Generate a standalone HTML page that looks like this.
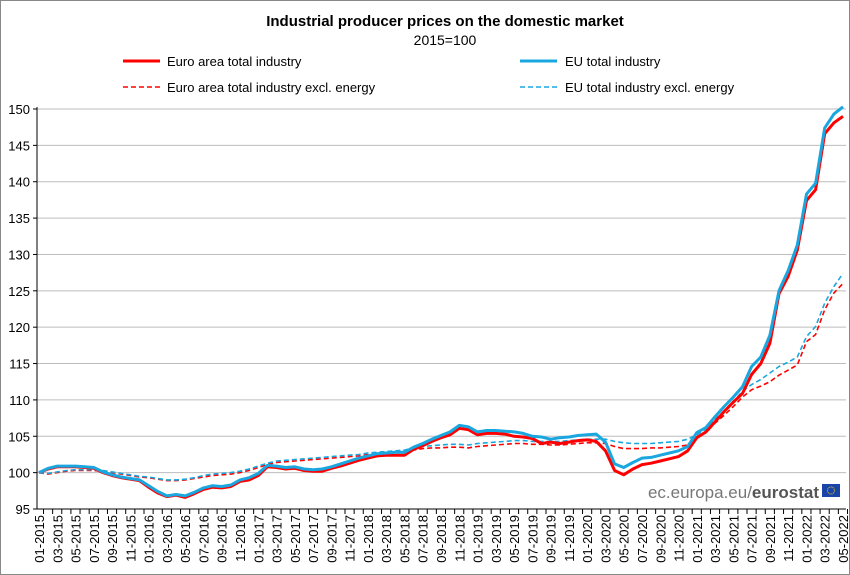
<!DOCTYPE html>
<html><head><meta charset="utf-8"><style>
html,body{margin:0;padding:0;background:#fff}
#wrap{position:relative;width:850px;height:575px;overflow:hidden}
svg text{font-family:"Liberation Sans",Arial,sans-serif}
</style></head><body>
<div id="wrap">
<svg id="chart" width="850" height="575" viewBox="0 0 850 575">
<rect x="0.5" y="0.5" width="849" height="574" fill="#fff" stroke="#888"/>
<text x="445" y="26" text-anchor="middle" font-size="15" font-weight="bold">Industrial producer prices on the domestic market</text>
<text x="445" y="45" text-anchor="middle" font-size="14">2015=100</text>
<g>
<g><line x1="123" y1="61" x2="160" y2="61" stroke="#f00" stroke-width="3"/><text x="167" y="66" font-size="13">Euro area total industry</text></g>
<g><line x1="520" y1="61" x2="557" y2="61" stroke="#1aa7e0" stroke-width="3"/><text x="565" y="66" font-size="13">EU total industry</text></g>
<g><line x1="123" y1="87" x2="160" y2="87" stroke="#f00" stroke-width="1.6" stroke-dasharray="5,3"/><text x="167" y="92" font-size="13">Euro area total industry excl. energy</text></g>
<g><line x1="520" y1="87" x2="557" y2="87" stroke="#1aa7e0" stroke-width="1.6" stroke-dasharray="5,3"/><text x="565" y="92" font-size="13">EU total industry excl. energy</text></g>
</g>
<g id="grid"></g>
<g id="axes"></g>
<text x="819" y="498" text-anchor="end" font-size="17" fill="#777">ec.europa.eu/<tspan font-weight="bold" fill="#555">eurostat</tspan></text>
<g><rect x="822" y="484" width="18" height="13" fill="#1a45a8"/><circle cx="831" cy="490.5" r="3.5" fill="none" stroke="#fc0" stroke-width="1" stroke-dasharray="1,1"/></g>
<g id="series"></g>
</svg>
</div>
<script>
const categories = [];
for (let y = 2015; y <= 2022; y++) for (let m = 1; m <= 12; m++) { if (y === 2022 && m > 5) break; categories.push(String(m).padStart(2,'0') + '-' + y); }
const yTicks = [95,100,105,110,115,120,125,130,135,140,145,150];
const euroAreaTotal = [
100,100.5,100.8,100.8,100.8,100.7,100.6,100.0,99.6,99.3,99.1,98.9,
98.0,97.2,96.7,96.9,96.6,97.1,97.7,98.0,97.9,98.1,98.8,99.0,
99.6,100.8,100.7,100.5,100.6,100.3,100.2,100.2,100.6,100.9,101.3,101.7,
102.0,102.3,102.4,102.4,102.4,103.2,103.7,104.3,104.8,105.2,106.1,105.9,
105.2,105.4,105.4,105.3,105.0,104.9,104.7,104.0,104.2,104.0,104.2,104.4,
104.5,104.3,103.0,100.3,99.7,100.5,101.1,101.3,101.6,101.9,102.2,103.0,
104.8,105.6,107.0,108.4,109.7,110.9,113.5,115.0,117.8,124.6,127.0,130.6,
137.4,138.9,146.6,148.1,149.0];
const euTotal = [
100,100.6,100.9,100.9,100.9,100.8,100.7,100.1,99.7,99.4,99.2,99.0,
98.2,97.4,96.8,97.0,96.8,97.3,97.9,98.2,98.1,98.3,99.0,99.3,
99.9,101.0,100.9,100.7,100.8,100.5,100.4,100.5,100.8,101.2,101.6,102.0,
102.3,102.6,102.7,102.8,102.8,103.5,104.0,104.6,105.1,105.6,106.5,106.3,
105.6,105.8,105.8,105.7,105.6,105.4,105.0,104.9,104.6,104.8,104.9,105.1,
105.2,105.3,104.2,101.2,100.7,101.4,102.0,102.1,102.4,102.7,103.0,103.6,
105.5,106.2,107.7,109.1,110.4,111.8,114.6,115.9,118.9,125.0,127.8,131.3,
138.3,139.8,147.4,149.3,150.3];
const euroAreaExclEnergy = [
100,99.8,100.0,100.2,100.3,100.3,100.3,100.2,100.0,99.8,99.6,99.4,
99.3,99.1,98.9,98.9,99.0,99.2,99.4,99.6,99.7,99.8,100.0,100.3,
100.7,101.1,101.4,101.5,101.6,101.7,101.8,101.9,102.0,102.1,102.2,102.3,
102.5,102.6,102.7,102.8,102.9,103.1,103.3,103.4,103.4,103.5,103.5,103.4,
103.6,103.7,103.8,103.9,104.0,104.0,103.9,103.9,103.8,103.8,103.9,104.0,
104.1,104.1,104.0,103.6,103.3,103.3,103.3,103.4,103.4,103.5,103.6,103.8,
104.8,105.5,106.8,107.9,109.1,110.4,111.4,111.9,112.5,113.4,114.1,114.8,
118.0,119.0,122.4,124.7,126.0];
const euExclEnergy = [
100,99.9,100.1,100.3,100.4,100.4,100.4,100.3,100.1,99.9,99.7,99.5,
99.4,99.2,99.0,99.0,99.1,99.3,99.6,99.8,99.9,100.0,100.2,100.5,
100.9,101.3,101.6,101.7,101.8,101.9,102.0,102.1,102.2,102.3,102.4,102.5,
102.7,102.8,102.9,103.0,103.1,103.4,103.6,103.7,103.8,103.9,103.9,103.8,
104.0,104.1,104.2,104.3,104.4,104.4,104.3,104.3,104.3,104.3,104.4,104.5,
104.6,104.6,104.6,104.3,104.1,104.0,104.0,104.0,104.1,104.2,104.3,104.6,
105.2,106.0,107.3,108.5,109.8,111.2,112.1,112.8,113.7,114.6,115.2,115.9,
118.7,120.1,123.3,125.6,127.4];
const NS = 'http://www.w3.org/2000/svg';
const X0 = 39, X1 = 843, Y0 = 509, Y1 = 109, VMIN = 95, VMAX = 150;
function xPos(i){ return X0 + (X1 - X0) * i / (categories.length - 1); }
function yPos(v){ return Y0 - (v - VMIN) / (VMAX - VMIN) * (Y0 - Y1); }
function mk(tag, attrs, parent){ const e = document.createElementNS(NS, tag); for (const k in attrs) e.setAttribute(k, attrs[k]); parent.appendChild(e); return e; }
const grid = document.getElementById('grid'), axes = document.getElementById('axes'), series = document.getElementById('series');
yTicks.forEach(t => {
  const y = yPos(t);
  if (t > VMIN) {
    const g = mk('line', {x1:37, x2:846, y1:y, y2:y, stroke:'#bdbdbd', 'stroke-width':1}, grid);
    
    
  }
  mk('line', {x1:33, x2:37, y1:y, y2:y, stroke:'#000'}, axes);
  const tx = mk('text', {x:30, y:y + 5, 'text-anchor':'end', 'font-size':13}, axes);
  tx.textContent = t;
  
  
});
const ya = mk('line', {x1:37, x2:37, y1:Y1 - 2, y2:Y0, stroke:'#000'}, axes);


const xa = mk('line', {x1:37, x2:846, y1:Y0, y2:Y0, stroke:'#000'}, axes);


categories.forEach((c, i) => {
  const x = xPos(i);
  mk('line', {x1:x + 4.5, x2:x + 4.5, y1:Y0, y2:Y0 + 5, stroke:'#000'}, axes);
  if (i % 2 === 0) {
    const tx = mk('text', {x:0, y:0, 'text-anchor':'end', 'font-size':13, transform:'translate(' + (x + 5) + ',' + (Y0 + 6) + ') rotate(-90)'}, axes);
    tx.textContent = c;
    
    
  }
});
function drawLine(vals, color, width, dash, name){
  const pts = vals.map((v, i) => xPos(i).toFixed(1) + ',' + yPos(v).toFixed(1)).join(' ');
  const p = mk('polyline', {points:pts, fill:'none', stroke:color, 'stroke-width':width, 'stroke-linejoin':'round'}, series);
  if (dash) p.setAttribute('stroke-dasharray', dash);
  
  
}
drawLine(euroAreaExclEnergy, '#f00', 1.6, '5,3', 'series-euro-area-excl-energy');
drawLine(euExclEnergy, '#1aa7e0', 1.6, '5,3', 'series-eu-excl-energy');
drawLine(euroAreaTotal, '#f00', 3, null, 'series-euro-area-total');
drawLine(euTotal, '#1aa7e0', 3, null, 'series-eu-total');
</script>
</body></html>
